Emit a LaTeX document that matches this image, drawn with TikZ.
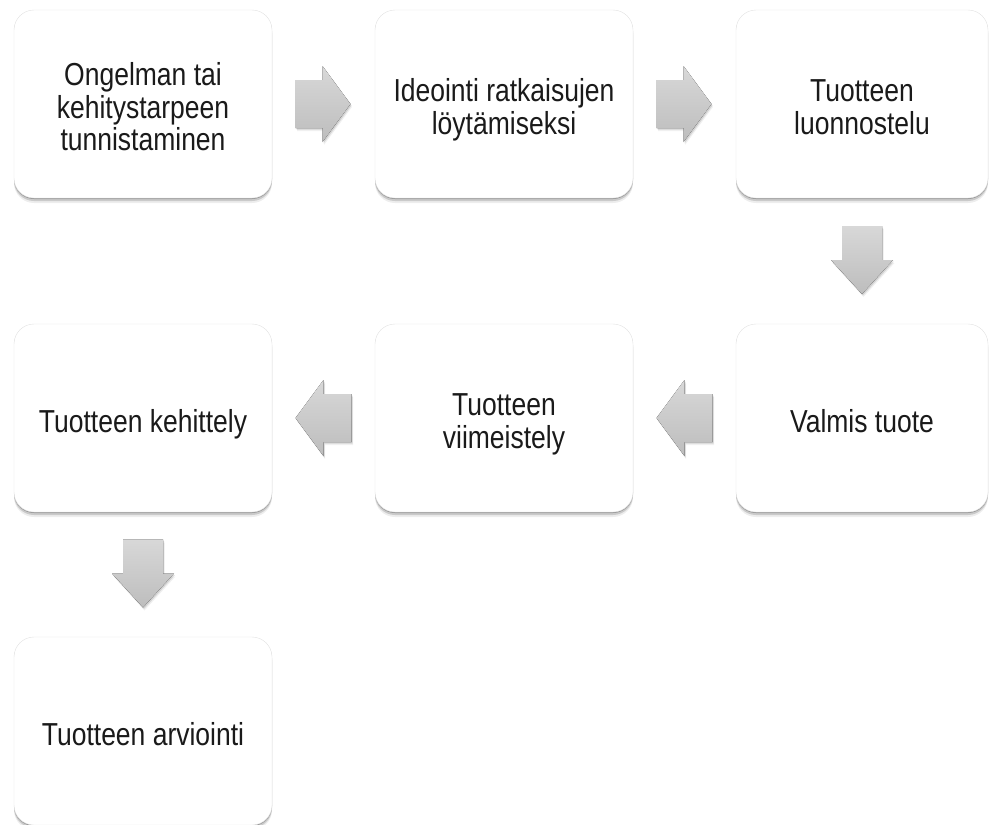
\documentclass[tikz,border=0pt]{standalone}
\usepackage{fontspec}
\usepackage{graphicx}
\setmainfont{Liberation Sans}
\usetikzlibrary{calc,shadows}
\definecolor{boxLine}{HTML}{E2E2E2}
\definecolor{boxText}{HTML}{1A1A1A}
\definecolor{arrowTop}{HTML}{D8D8D8}
\definecolor{arrowBottom}{HTML}{BDBDBD}
\newcommand{\tallText}[1]{\raisebox{-15pt}[0pt][0pt]{\scalebox{1}[1.2]{\begin{tabular}{@{}c@{}}#1\end{tabular}}}}

\begin{document}
\begin{tikzpicture}[x=1pt, y=-1pt,
  box/.style={draw=boxLine, fill=white, rounded corners=20pt, minimum width=258pt, minimum height=188pt,
    align=center, text=boxText, font=\fontsize{26.5}{26.7}\selectfont,
    drop shadow={shadow xshift=0pt, shadow yshift=-1pt, opacity=.25, fill=black},
    drop shadow={shadow xshift=0pt, shadow yshift=-3pt, opacity=.15, fill=black},
    drop shadow={shadow xshift=0pt, shadow yshift=-5pt, opacity=.07, fill=black}},
  blockarrow/.style={top color=arrowTop, bottom color=arrowBottom,
    drop shadow={shadow xshift=1pt, shadow yshift=-1.5pt, opacity=.12, fill=black},
    drop shadow={shadow xshift=1.5pt, shadow yshift=-3pt, opacity=.06, fill=black}}]
  \useasboundingbox (0,0) rectangle (989,825);
  % (a) boxes, row by row
  \node[box] (p1) at (143,104) {\tallText{Ongelman tai\\kehitystarpeen\\tunnistaminen}};
  \node[box] (p2) at (504,104) {\tallText{Ideointi ratkaisujen\\löytämiseksi}};
  \node[box, minimum width=252pt] (p3) at (862,104) {\tallText{Tuotteen\\luonnostelu}};
  \node[box, minimum width=252pt] (p4) at (862,418) {\tallText{Valmis tuote}};
  \node[box] (p5) at (504,418) {\tallText{Tuotteen\\viimeistely}};
  \node[box] (p6) at (143,418) {\tallText{Tuotteen kehittely}};
  \node[box] (p7) at (143,731) {\tallText{Tuotteen arviointi}};
  % (b) arrows to the right
  \coordinate (m12) at ($(p1.east)!0.5!(p2.west)$);
  \coordinate (m23) at ($(p2.east)!0.5!(p3.west)$);
  \foreach \m in {m12,m23}
    \fill[blockarrow] ($(\m)+(-28,-24)$) -- ++(27,0) -- ++(0,-14) -- ++(28,38) -- ++(-28,38) -- ++(0,-14) -- ++(-27,0) -- cycle;
  % (c) arrows to the left
  \coordinate (m45) at ($(p4.west)!0.5!(p5.east)$);
  \coordinate (m56) at ($(p5.west)!0.5!(p6.east)$);
  \foreach \m in {m45,m56}
    \fill[blockarrow] ($(\m)+(-28,0)$) -- ++(28,-38) -- ++(0,14) -- ++(28,0) -- ++(0,48) -- ++(-28,0) -- ++(0,14) -- cycle;
  % (d) arrows down
  \coordinate (m34) at ($(p3.south)!0.5!(p4.north)$);
  \coordinate (m67) at ($(p6.south)!0.5!(p7.north)$);
  \foreach \m in {m34,m67}
    \fill[blockarrow] ($(\m)+(-20,-35)$) -- ++(40,0) -- ++(0,34) -- ++(11,0) -- ++(-31,34) -- ++(-31,-34) -- ++(11,0) -- cycle;
\end{tikzpicture}
\end{document}
